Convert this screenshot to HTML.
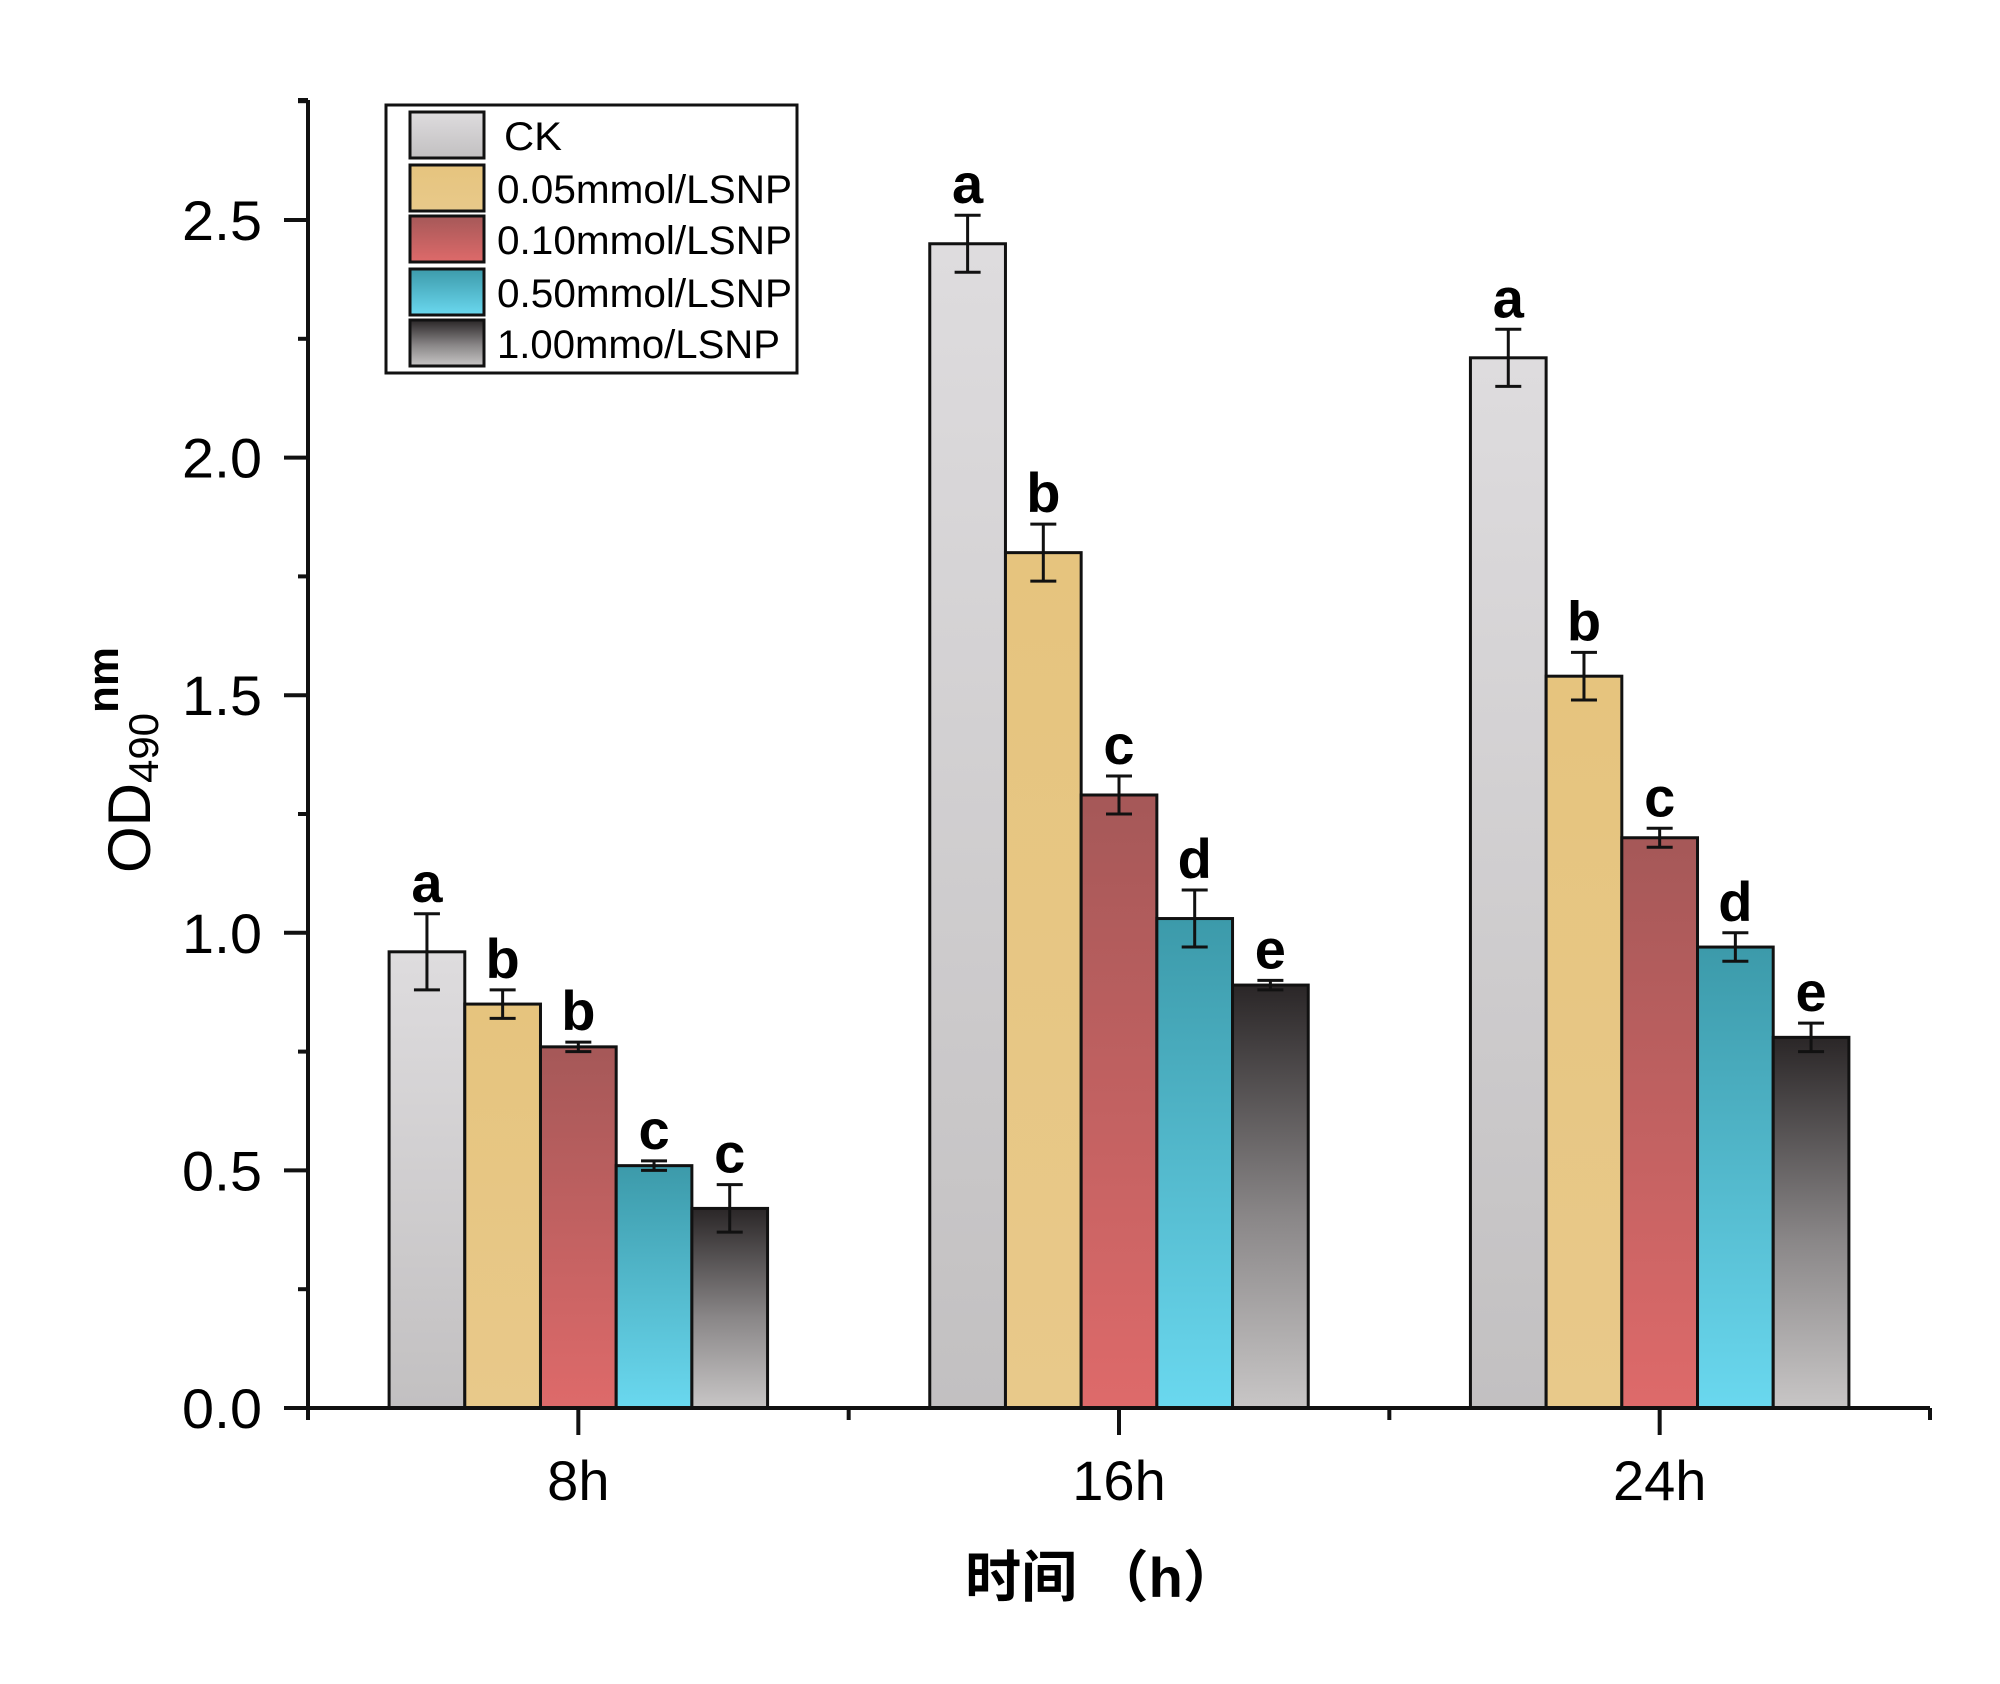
<!DOCTYPE html>
<html><head><meta charset="utf-8"><style>
html,body{margin:0;padding:0;background:#fff;}
svg{display:block;}
text{font-family:"Liberation Sans","Noto Sans CJK SC",sans-serif;}
</style></head><body>
<svg id="chart" width="2000" height="1684" viewBox="0 0 2000 1684" xmlns="http://www.w3.org/2000/svg">
<defs>
<linearGradient id="g0" x1="0" y1="0" x2="0" y2="1"><stop offset="0" stop-color="#dedcde"/><stop offset="1" stop-color="#c2c0c1"/></linearGradient>
<linearGradient id="g1" x1="0" y1="0" x2="0" y2="1"><stop offset="0" stop-color="#e6c47e"/><stop offset="1" stop-color="#e8c98a"/></linearGradient>
<linearGradient id="g2" x1="0" y1="0" x2="0" y2="1"><stop offset="0" stop-color="#a55858"/><stop offset="1" stop-color="#de6a6a"/></linearGradient>
<linearGradient id="g3" x1="0" y1="0" x2="0" y2="1"><stop offset="0" stop-color="#3c9aaa"/><stop offset="1" stop-color="#6ad8ef"/></linearGradient>
<linearGradient id="g4" x1="0" y1="0" x2="0" y2="1"><stop offset="0" stop-color="#2a2627"/><stop offset="0.55" stop-color="#8a8788"/><stop offset="1" stop-color="#c8c6c6"/></linearGradient>
</defs>
<g id="bars"></g>
<g id="axes"></g>
<g id="legend"></g>
<text x="1102" y="1597" font-size="56" text-anchor="middle" font-family="'Noto Serif CJK SC','Noto Sans CJK SC',serif" font-weight="bold">时间 （h）</text>
<text transform="translate(150,760) rotate(-90)" font-size="60" text-anchor="middle">OD<tspan font-size="42" dy="8">490</tspan><tspan font-size="44" dy="-40" font-weight="bold">nm</tspan></text>
</svg>
<script>
const categories = ["8h","16h","24h"];
const seriesNames = ["CK","0.05mmol/LSNP","0.10mmol/LSNP","0.50mmol/LSNP","1.00mmo/LSNP"];
const valuesCK   = [0.96, 2.45, 2.21];
const values005  = [0.85, 1.80, 1.54];
const values010  = [0.76, 1.29, 1.20];
const values050  = [0.51, 1.03, 0.97];
const values100  = [0.42, 0.89, 0.78];
const errCK  = [0.08, 0.06, 0.06];
const err005 = [0.03, 0.06, 0.05];
const err010 = [0.01, 0.04, 0.02];
const err050 = [0.01, 0.06, 0.03];
const err100 = [0.05, 0.01, 0.03];
const lettersCK  = ["a","a","a"];
const letters005 = ["b","b","b"];
const letters010 = ["b","c","c"];
const letters050 = ["c","d","d"];
const letters100 = ["c","e","e"];
const yTicks = [0, 0.5, 1.0, 1.5, 2.0, 2.5];
const yTickLabels = ["0.0","0.5","1.0","1.5","2.0","2.5"];

const NS="http://www.w3.org/2000/svg";
const series=[valuesCK,values005,values010,values050,values100];
const errs=[errCK,err005,err010,err050,err100];
const letters=[lettersCK,letters005,letters010,letters050,letters100];
const X0=308, X1=1930, Y0=1408, YT=100;
const pxPerUnit=(1408-220)/2.5;
const y=v=>Y0-v*pxPerUnit;
const catW=(X1-X0)/3;
const xc=i=>X0+(i+0.5)*catW;
const barW=catW*0.7/5;
function mk(tag,attrs,parent){const e=document.createElementNS(NS,tag);for(const k in attrs)e.setAttribute(k,attrs[k]);parent.appendChild(e);return e;}
const gb=document.getElementById('bars');
series.forEach((vals,s)=>{
  vals.forEach((v,i)=>{
    const x=xc(i)-2.5*barW+s*barW;
    const r=mk('rect',{x:x,y:y(v),width:barW,height:Y0-y(v),fill:`url(#g${s})`,stroke:'#111','stroke-width':3},gb);
    
    
    const cx=x+barW/2, e=errs[s][i];
    const eb=mk('path',{d:`M${cx} ${y(v+e)}V${y(v-e)}M${cx-13} ${y(v+e)}h26M${cx-13} ${y(v-e)}h26`,stroke:'#111','stroke-width':3,fill:'none'},gb);
    
    
    const t=mk('text',{x:cx,y:y(v+e)-12,'font-size':56,'font-weight':'bold','text-anchor':'middle'},gb);
    t.textContent=letters[s][i];
    
    
  });
});
const ga=document.getElementById('axes');
mk('path',{d:`M${X0} ${YT}V${Y0}H${X1}`,stroke:'#111','stroke-width':4,fill:'none'},ga);
mk('path',{d:`M${X0-10} ${YT}H${X0}`,stroke:'#111','stroke-width':4},ga);
for(let v=0;v<=2.75001;v+=0.25){
  const major=Math.abs(v*2-Math.round(v*2))<1e-6;
  mk('line',{x1:X0-(major?24:10),x2:X0,y1:y(v),y2:y(v),stroke:'#111','stroke-width':4},ga);
}
yTicks.forEach((v,k)=>{
  const t=mk('text',{x:262,y:y(v)+20,'font-size':56,'text-anchor':'end',textLength:80,lengthAdjust:'spacingAndGlyphs'},ga);
  t.textContent=yTickLabels[k];
  
  
});
for(let k=0;k<=3;k++){mk('line',{x1:X0+k*catW,x2:X0+k*catW,y1:Y0,y2:Y0+12,stroke:'#111','stroke-width':4},ga);}
categories.forEach((c,i)=>{
  mk('line',{x1:xc(i),x2:xc(i),y1:Y0,y2:Y0+27,stroke:'#111','stroke-width':4},ga);
  const t=mk('text',{x:xc(i),y:1500,'font-size':56,'text-anchor':'middle'},ga);
  t.textContent=c;
  
  
});
const gl=document.getElementById('legend');
const lb=mk('rect',{x:386,y:105,width:411,height:268,fill:'#fff',stroke:'#111','stroke-width':3},gl);


const rowY=[112,165,216,269,320];
const legW=[58,295,295,295,283];
seriesNames.forEach((n,s)=>{
  const r=mk('rect',{x:410,y:rowY[s],width:74,height:46,fill:`url(#g${s})`,stroke:'#111','stroke-width':3},gl);
  
  
  const t=mk('text',{x:s==0?504:497,y:rowY[s]+38,'font-size':40,textLength:legW[s],lengthAdjust:'spacingAndGlyphs'},gl);
  t.textContent=n;
  
  
});
</script>
</body></html>
